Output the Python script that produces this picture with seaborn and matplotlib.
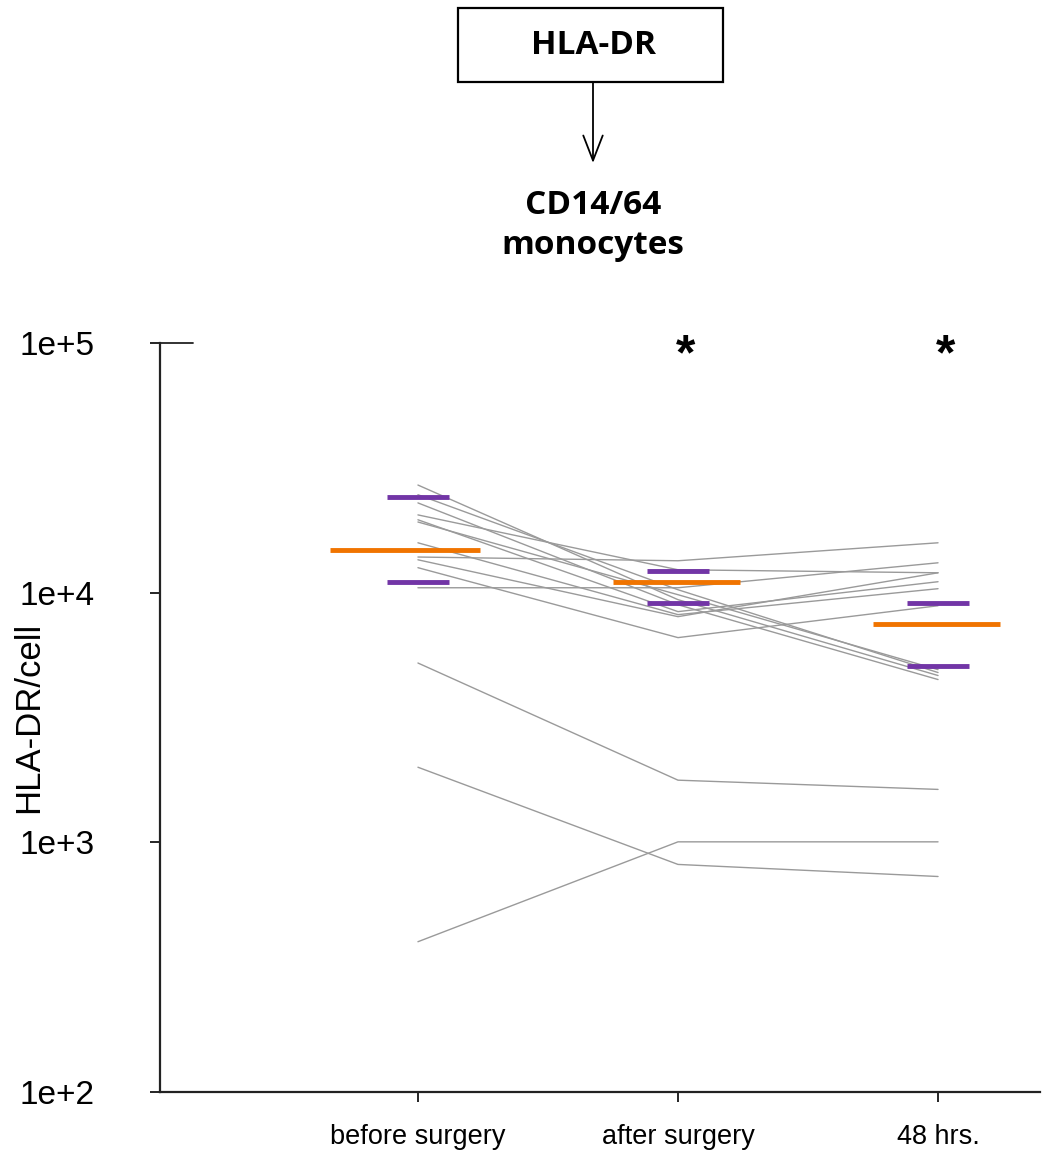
import numpy as np
import pandas as pd
import matplotlib
matplotlib.use("Agg")
import matplotlib.pyplot as plt
import seaborn as sns
from matplotlib.patches import FancyArrowPatch, Rectangle

# --- data ---
timepoints = ['before surgery', 'after surgery', '48 hrs.']

# HLA-DR molecules per cell, one list per patient (before, after, 48 hrs)
before = [27000, 24700, 22900, 20500, 19600, 19200, 15850, 13900, 13550, 12600, 10470,
          5230, 2000, 400]
after = [9380, 10280, 8950, 12360, 8400, 9820, 8170, 13430, 8020, 6610, 10470,
         1775, 816, 1005]
hrs48 = [4660, 4790, 4490, 12020, 11070, 4920, 10380, 15850, 12020, 8870, 13180,
         1630, 730, 1005]

# median (orange) and quartiles (purple)
medians = [14860, 11070, 7520]
q_upper = [24200, 12250, 9120]
q_lower = [11070, 9120, 5100]

yticks = [1e2, 1e3, 1e4, 1e5]
ytick_labels = ['1e+2', '1e+3', '1e+4', '1e+5']
signif = ['', '*', '*']

rows = []
for pid, vals in enumerate(zip(before, after, hrs48)):
    for t, v in enumerate(vals):
        rows.append({'patient': pid, 'time': t, 'value': v})
df = pd.DataFrame(rows)

sns.set_style("ticks")
plt.rcParams['font.family'] = ['Liberation Sans', 'DejaVu Sans']
plt.rcParams['text.color'] = 'black'
plt.rcParams['xtick.color'] = 'black'
plt.rcParams['ytick.color'] = 'black'
plt.rcParams['axes.labelcolor'] = 'black'

fig = plt.figure(figsize=(10.49, 11.54), dpi=100)
ax = fig.add_axes([0.1525, 0.0537, 0.8389, 0.649])

sns.lineplot(data=df, x='time', y='value', units='patient', estimator=None,
             color='#9a9a9a', linewidth=1.0, ax=ax, legend=False)

ax.set_yscale('log')
ax.set_ylim(1e2, 1e5)
ax.set_xlim(-0.992, 2.392)

# quartile and median bars
purple = '#7235a6'
orange = '#f07400'
for i in range(3):
    ax.hlines(q_upper[i], i - 0.12, i + 0.12, color=purple, linewidth=3.5, zorder=3)
    ax.hlines(q_lower[i], i - 0.12, i + 0.12, color=purple, linewidth=3.5, zorder=3)
    left = 0.34 if i == 0 else 0.25
    ax.hlines(medians[i], i - left, i + 0.24, color=orange, linewidth=3.5, zorder=4)
    if signif[i]:
        ax.annotate(signif[i], (i + 0.03, 1e5), xytext=(0, -13), textcoords='offset pixels',
                    ha='center', va='center', fontsize=36, fontweight='bold')

ax.set_yticks(yticks)
ax.set_yticklabels(ytick_labels)
ax.yaxis.set_minor_locator(matplotlib.ticker.NullLocator())
ax.set_xticks(range(3))
ax.set_xticklabels(timepoints)
ax.tick_params(axis='y', length=7, width=1.2, labelsize=24, pad=40)
ax.tick_params(axis='x', length=7, width=1.2, labelsize=19.5, pad=16)
ax.set_xlabel('')
ax.set_ylabel('HLA-DR/cell', fontsize=25)
ax.yaxis.set_label_coords(-0.131, 0.5)

for s in ['top', 'right']:
    ax.spines[s].set_visible(False)
for s in ['left', 'bottom']:
    ax.spines[s].set_linewidth(1.6)
    ax.spines[s].set_color('#222222')

# short line on top of the axis at 1e+5
ax.plot([0, 0.038], [1e5, 1e5], transform=ax.get_yaxis_transform(),
        color='#222222', linewidth=1.3, clip_on=False)

# header: box, arrow and cell population
cx = 593 / 1049
fig.add_artist(Rectangle((458 / 1049, 1 - 82 / 1154), 265 / 1049, 74 / 1154,
                         transform=fig.transFigure, facecolor='white',
                         edgecolor='black', linewidth=1.6))
fig.text(cx, 1 - 46 / 1154, 'HLA-DR', ha='center', va='center', fontsize=24,
         fontweight='bold', family=['Open Sans', 'DejaVu Sans'])
fig.add_artist(FancyArrowPatch((cx, 1 - 82 / 1154), (cx, 1 - 163 / 1154),
                               transform=fig.transFigure,
                               arrowstyle='->,head_length=0.9,head_width=0.35',
                               mutation_scale=20, color='black', linewidth=1.3,
                               shrinkA=0, shrinkB=0))
fig.text(cx, 1 - 205 / 1154, 'CD14/64', ha='center', va='center', fontsize=24,
         fontweight='bold', family=['Open Sans', 'DejaVu Sans'])
fig.text(cx, 1 - 245 / 1154, 'monocytes', ha='center', va='center', fontsize=24,
         fontweight='bold', family=['Open Sans', 'DejaVu Sans'])

fig.savefig('out.png', dpi=100)
